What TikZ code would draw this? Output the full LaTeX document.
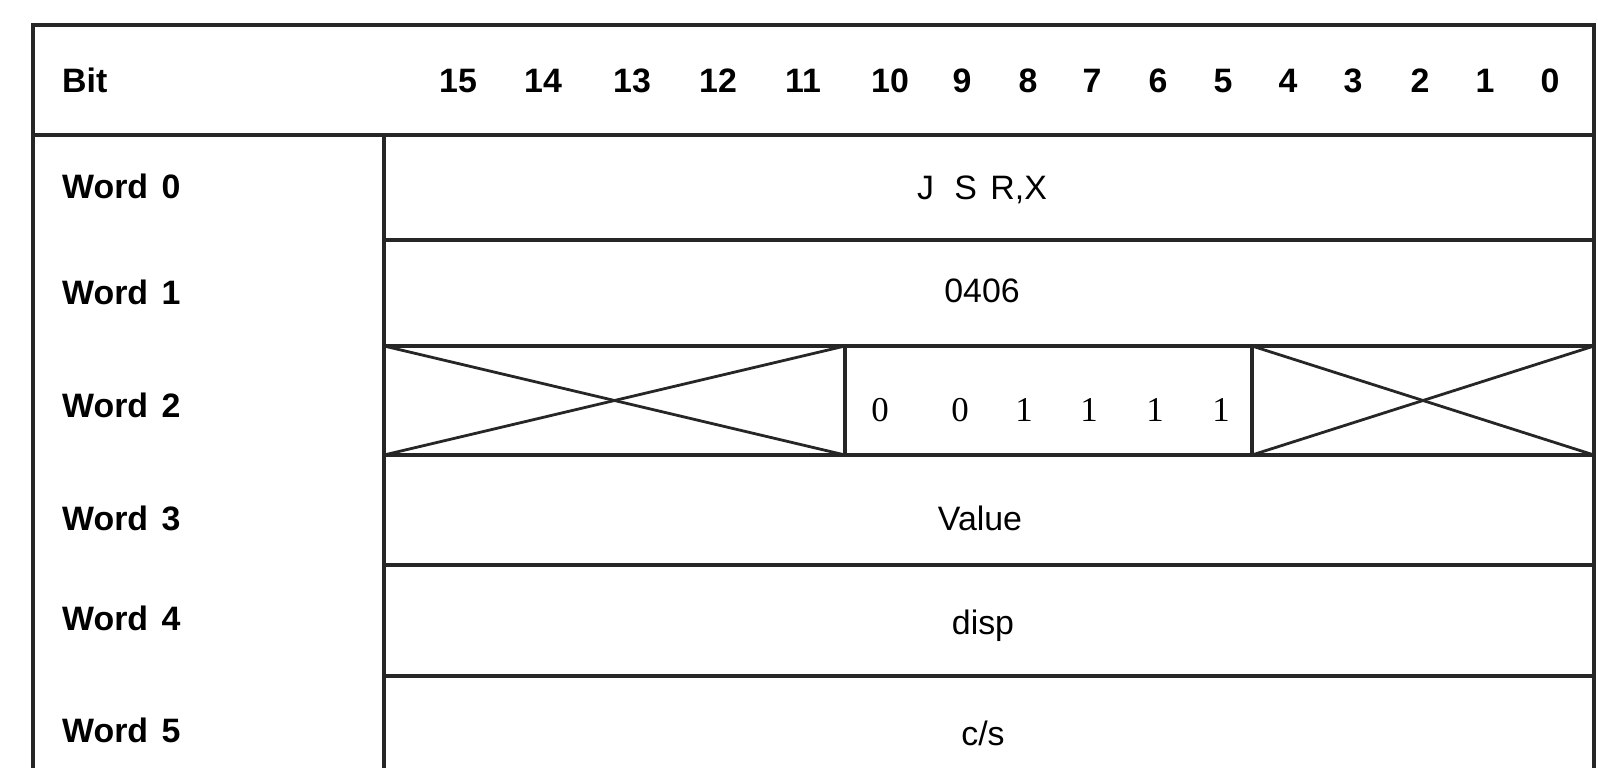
\documentclass[tikz,border=0pt]{standalone}
\usepackage{fontspec}
\setmainfont{Liberation Sans}
\newfontfamily\serifdigits{Liberation Serif}
\begin{document}
\begin{tikzpicture}[x=1bp,y=-1bp,
  rule/.style={line width=3.2bp, black!85, line cap=round},
  cross/.style={line width=2.8bp, black!85},
  hdr/.style={font=\fontsize{34}{36}\selectfont\bfseries, inner sep=0pt, text height=24.5bp, text depth=0pt},
  lbl/.style={font=\fontsize{34}{36}\selectfont\bfseries, anchor=west, inner sep=0pt, text height=24.5bp, text depth=0pt},
  val/.style={font=\fontsize{34}{36}\selectfont, inner sep=0pt, text height=24.5bp, text depth=0pt},
  bitval/.style={font=\serifdigits\fontsize{35}{36}\selectfont, inner sep=0pt, text height=23.7bp, text depth=0pt}]
\useasboundingbox (0,0) rectangle (1598,768);
% frame
\draw[rule] (33,768) -- (33,25) -- (1594,25) -- (1594,768);
\draw[rule] (33,135) -- (1594,135);
\draw[rule] (384,135) -- (384,768);
\foreach \yy in {240,346,455,565,676}
  \draw[rule] (384,\yy) -- (1594,\yy);
% word 2 partitions
\draw[rule] (845,346) -- (845,455);
\draw[rule] (1252,346) -- (1252,455);
\draw[cross] (384,346) -- (845,455);
\draw[cross] (384,455) -- (845,346);
\draw[cross] (1252,346) -- (1594,455);
\draw[cross] (1252,455) -- (1594,346);
% header
\node[lbl] (bit) at (62,80) {Bit};
\foreach \b/\x in {15/458,14/543,13/632,12/718,11/803,10/890,9/962,8/1028,7/1092,6/1158,5/1223,4/1288,3/1353,2/1420,1/1485,0/1550}
  \node[hdr] (b\b) at (\x,80) {\b};
% word labels
\node[lbl] (w0) at (62,186) {Word\hspace{0.4em}0};
\node[lbl] (w1) at (62,292) {Word\hspace{0.4em}1};
\node[lbl] (w2) at (62,405) {Word\hspace{0.4em}2};
\node[lbl] (w3) at (62,518) {Word\hspace{0.4em}3};
\node[lbl] (w4) at (62,618) {Word\hspace{0.4em}4};
\node[lbl] (w5) at (62,730) {Word\hspace{0.4em}5};
% contents
\node[val] (v0) at (982,187) {J\hspace{0.6em}S\hspace{0.4em}R,X};
\node[val] (v1) at (982,290) {0406};
\node[val] (v3) at (980,518) {Value};
\node[val] (v4) at (983,622) {disp};
\node[val] (v5) at (983,733) {c/s};
\foreach \d/\x [count=\i] in {0/880,0/960,1/1024,1/1089,1/1155,1/1221}
  \node[bitval] (w2b\i) at (\x,410) {\d};
\end{tikzpicture}
\end{document}
